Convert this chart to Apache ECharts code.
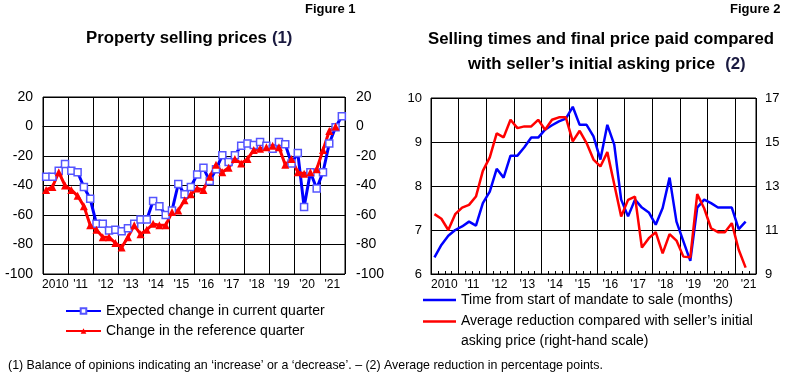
<!DOCTYPE html>
<html><head><meta charset="utf-8">
<script src="https://cdn.jsdelivr.net/npm/echarts@6/dist/echarts.min.js"></script>
<style>html,body{margin:0;padding:0;background:#fff}#c{width:800px;height:381px}</style>
</head><body><div id="c"></div>
<script>
// ---- data ----
const years = [2010,2011,2012,2013,2014,2015,2016,2017,2018,2019,2020,2021];
const yearLabels = ['2010',"'11","'12","'13","'14","'15","'16","'17","'18","'19","'20","'21"];
const quarterNames = ['Q1','Q2','Q3','Q4'];
// Figure 1: balance of opinions (quarterly, 2010Q1-2021Q4)
const expectedChange = [-34,-34,-30,-25.5,-30,-31,-41,-49,-66,-66,
  -70.5,-70,-71,-69,-66,-63,-63,-50.5,-54,-60,
  -57,-39,-46,-41,-32.5,-28,-37,-29,-19.5,-24,
  -19.5,-13,-11.5,-12.5,-10.5,-13,-15,-10.5,-12,-25,
  -18,-54.5,-31,-42,-31,-11.5,-0.5,7];
const referenceChange = [-43,-41,-31,-40,-43,-47,-54,-67,-70,-75,
  -75,-79,-82,-75,-67,-73,-70,-66,-67,-67,
  -58,-57,-50,-46,-42,-43,-34,-26,-31,-28,
  -22,-25,-22,-16,-15,-14,-13,-14,-26,-22,
  -31,-32,-31,-29,-16,-3,0,null];
// Figure 2 (quarterly, 2010Q1-2021Q2 on an axis running to 2021Q3)
const sellingTime = [6.38,6.66,6.87,7.0,7.08,7.19,7.10,7.61,7.87,8.39,
  8.19,8.69,8.69,8.88,9.10,9.10,9.28,9.38,9.47,9.53,
  9.80,9.39,9.39,9.13,8.60,9.39,8.94,7.69,7.31,7.69,
  7.51,7.40,7.12,7.50,8.19,7.19,6.74,6.30,7.51,7.69,
  7.61,7.51,7.51,7.51,7.02,7.19];
const priceReduction = [11.72,11.51,11.0,11.72,12.02,12.14,12.52,13.69,14.30,15.39,
  15.21,16.01,15.63,15.71,15.71,16.01,15.56,16.01,16.12,16.12,
  15.03,15.51,14.95,14.2,13.89,14.54,13.08,11.61,12.37,12.52,
  10.20,10.63,10.90,9.94,10.81,10.52,9.79,9.76,12.63,11.99,
  11.08,10.90,10.90,11.31,10.10,9.29];
const leftAxis1 = {min:-100, max:20, interval:20};
const leftAxis2 = {min:6, max:10, interval:1};
const rightAxis2 = {min:9, max:17, interval:2};

const quartersLeft = [];
years.forEach(y => quarterNames.forEach(q => quartersLeft.push(y + ' ' + q)));
const quartersRight = quartersLeft.slice(0, 47);

const FONT = "'Liberation Sans', Arial, sans-serif";
const yearOf = v => yearLabels[years.indexOf(parseInt(v, 10))];

function xAxisFor(gridIndex, data, minorTicks) {
  return {
    type: 'category', gridIndex, data, boundaryGap: true,
    axisLine: {show: true, lineStyle: {color: '#000', width: 1}},
    axisTick: minorTicks ? {show: true, inside: true, length: 3, interval: 0, lineStyle: {color: '#000'}} : {show: false},
    axisLabel: {interval: (i) => i % 4 === 1, formatter: yearOf, fontSize: 12, fontFamily: FONT,
      color: '#000', margin: 5, padding: [0, 0, 0, 6]},
    splitLine: {show: true, interval: (i) => i % 4 === 0, lineStyle: {color: '#000', width: 1}}
  };
}
function yAxisFor(gridIndex, sc, pos, fs, margin, split) {
  return {
    type: 'value', gridIndex, min: sc.min, max: sc.max, interval: sc.interval, position: pos,
    axisLine: {show: false}, axisTick: {show: false},
    axisLabel: {fontSize: fs, fontFamily: FONT, color: '#000', margin},
    splitLine: {show: split, lineStyle: {color: '#000', width: 1}}
  };
}

const TITLE_FS = 16.8;
const chart = echarts.init(document.getElementById('c'), null, {renderer: 'canvas'});
chart.setOption({
  animation: false,
  backgroundColor: '#fff',
  textStyle: {fontFamily: FONT},
  title: [
    {text: 'Figure 1', left: 305, top: 3, padding: 0, textStyle: {fontSize: 13, fontWeight: 'bold', color: '#000', fontFamily: FONT}},
    {text: '{b|Property selling prices} {n|(1)}', left: 86, top: 29, padding: 0,
      textStyle: {rich: {b: {fontSize: TITLE_FS, fontWeight: 'bold', color: '#000', fontFamily: FONT},
                         n: {fontSize: TITLE_FS, color: '#1a1a40', fontFamily: FONT}}}},
    {text: 'Figure 2', left: 730, top: 3, padding: 0, textStyle: {fontSize: 13, fontWeight: 'bold', color: '#000', fontFamily: FONT}},
    {text: 'Selling times and final price paid compared', left: 428, top: 31, padding: 0,
      textStyle: {fontSize: TITLE_FS, fontWeight: 'bold', color: '#000', fontFamily: FONT}},
    {text: '{b|with seller\u2019s initial asking price}  {n|(2)}', left: 468, top: 55, padding: 0,
      textStyle: {rich: {b: {fontSize: TITLE_FS, fontWeight: 'bold', color: '#000', fontFamily: FONT},
                         n: {fontSize: TITLE_FS, color: '#1a1a40', fontFamily: FONT}}}}
  ],
  grid: [
    {left: 43, top: 97, width: 302, height: 177, show: true, borderColor: '#000', borderWidth: 1, backgroundColor: 'transparent'},
    {left: 431, top: 98, width: 325, height: 176, show: true, borderColor: '#000', borderWidth: 1, backgroundColor: 'transparent'}
  ],
  xAxis: [xAxisFor(0, quartersLeft, false), xAxisFor(1, quartersRight, true)],
  yAxis: [
    yAxisFor(0, leftAxis1, 'left', 14, 10, true),
    yAxisFor(0, leftAxis1, 'right', 14, 11, false),
    yAxisFor(1, leftAxis2, 'left', 13, 9, true),
    yAxisFor(1, rightAxis2, 'right', 13, 9, false)
  ],
  legend: [
    {orient: 'vertical', left: 65, top: 304, padding: 0, itemWidth: 35, itemHeight: 7, itemGap: 6,
      data: ['Expected change in current quarter', 'Change in the reference quarter'],
      textStyle: {fontSize: 14, color: '#000', fontFamily: FONT}},
    {orient: 'vertical', left: 423, top: 293, padding: 0, itemWidth: 33, itemHeight: 2.5, itemGap: 7.5,
      data: [{name: 'Time from start of mandate to sale (months)', icon: 'rect'},
             {name: 'Average reduction compared with seller\u2019s initial', icon: 'rect'}],
      textStyle: {fontSize: 14, color: '#000', fontFamily: FONT}}
  ],
  graphic: [
    {type: 'text', left: 461, top: 334, style: {text: 'asking price (right-hand scale)', font: '14px ' + FONT, fill: '#000'}},
    {type: 'text', left: 8, top: 360, style: {text: '(1) Balance of opinions indicating an \u2018increase\u2019 or a \u2018decrease\u2019. \u2013 (2) Average reduction in percentage points.', font: '12.4px ' + FONT, fill: '#000'}}
  ],
  series: [
    {name: 'Expected change in current quarter', type: 'line', xAxisIndex: 0, yAxisIndex: 0, data: expectedChange,
      symbol: 'rect', symbolSize: 7, showAllSymbol: true,
      lineStyle: {color: '#0000ff', width: 3},
      itemStyle: {color: '#ffffff', borderColor: '#5555ff', borderWidth: 1.5}},
    {name: 'Change in the reference quarter', type: 'line', xAxisIndex: 0, yAxisIndex: 0, data: referenceChange,
      symbol: 'triangle', symbolSize: 8, showAllSymbol: true,
      lineStyle: {color: '#ff0000', width: 3},
      itemStyle: {color: '#ff0000'}},
    {name: 'Time from start of mandate to sale (months)', type: 'line', xAxisIndex: 1, yAxisIndex: 2, data: sellingTime,
      symbol: 'none', lineStyle: {color: '#0000ff', width: 2.5}, itemStyle: {color: '#0000ff'}},
    {name: 'Average reduction compared with seller\u2019s initial', type: 'line', xAxisIndex: 1, yAxisIndex: 3, data: priceReduction,
      symbol: 'none', lineStyle: {color: '#ff0000', width: 2.5}, itemStyle: {color: '#ff0000'}}
  ]
});
</script></body></html>
